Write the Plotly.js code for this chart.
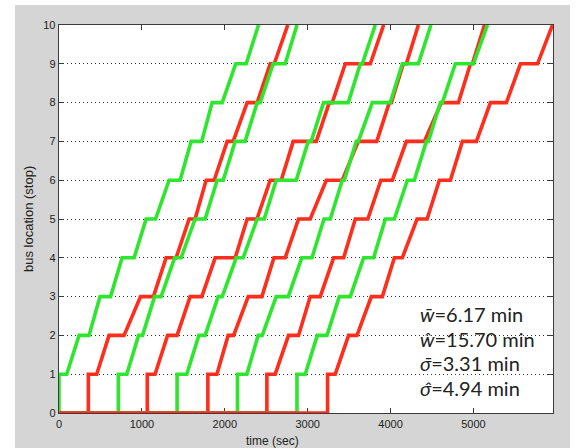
<!DOCTYPE html>
<html>
<head>
<meta charset="utf-8">
<script src="https://cdn.plot.ly/plotly-3.0.1.min.js"></script>
<style>
  html, body { margin: 0; padding: 0; background: #ffffff; }
  #chart { width: 582px; height: 448px; }
</style>
</head>
<body>
<div id="chart"></div>
<script>
// Stops on the route
const stops = [0, 1, 2, 3, 4, 5, 6, 7, 8, 9, 10];

// Arrival times (sec) at stops 1..10 (first value = dispatch time) and departure times at stops 1..9
const bus1Arr = [0, 242, 495, 761, 1051, 1328, 1594, 1848, 2132, 2407];
const bus1Dep = [93, 362, 622, 906, 1165, 1461, 1721, 1969, 2258];
const bus2Arr = [354, 604, 984, 1292, 1570, 1775, 2029, 2270, 2548, 2760];
const bus2Dep = [455, 785, 1139, 1413, 1642, 1872, 2101, 2391, 2597];
const bus3Arr = [716, 960, 1153, 1395, 1642, 1908, 2126, 2391, 2584, 2871];
const bus3Dep = [818, 1008, 1232, 1473, 1763, 1981, 2246, 2427, 2729];
const bus4Arr = [1065, 1310, 1582, 1884, 2270, 2548, 2826, 3261, 3454, 3917];
const bus4Dep = [1159, 1425, 1723, 2126, 2388, 2681, 3104, 3297, 3756];
const bus5Arr = [1425, 1687, 1920, 2138, 2391, 2621, 3007, 3192, 3635, 3816];
const bus5Dep = [1542, 1763, 1969, 2222, 2476, 2862, 3043, 3490, 3659];
const bus6Arr = [1796, 2041, 2283, 2593, 2890, 3225, 3611, 3985, 4154, 4336];
const bus6Dep = [1905, 2107, 2448, 2729, 3031, 3418, 3834, 4010, 4191];
const bus7Arr = [2153, 2403, 2621, 2929, 3197, 3418, 3587, 3780, 4142, 4487];
const bus7Dep = [2267, 2452, 2766, 3052, 3273, 3442, 3611, 3997, 4336];
const bus8Arr = [2508, 2769, 3031, 3313, 3575, 3883, 4191, 4613, 4964, 5133];
const bus8Dep = [2609, 2890, 3152, 3434, 3726, 4022, 4408, 4819, 4988];
const bus9Arr = [2871, 3116, 3382, 3675, 3937, 4203, 4432, 4601, 4782, 5169];
const bus9Dep = [2971, 3233, 3514, 3796, 4046, 4287, 4456, 4625, 5000];
const bus10Arr = [3240, 3494, 3768, 4046, 4320, 4589, 4867, 5205, 5567, 5954];
const bus10Dep = [3333, 3595, 3901, 4142, 4441, 4722, 5036, 5398, 5773];

const busColors = ['green', 'red', 'green', 'red', 'green', 'red', 'green', 'red', 'green', 'red'];

const xTicks = [0, 1000, 2000, 3000, 4000, 5000];
const yTicks = [0, 1, 2, 3, 4, 5, 6, 7, 8, 9, 10];

const statLabels = ['<i>w\u0304</i>=6.17 min', '<i>w\u0302</i>=15.70 min', '<i>\u03C3\u0304</i>=3.31 min', '<i>\u03C3\u0302</i>=4.94 min'];
const statY = [2.55, 1.92, 1.29, 0.65];
const statX = 4330;

const buses = [
  [bus1Arr, bus1Dep], [bus2Arr, bus2Dep], [bus3Arr, bus3Dep], [bus4Arr, bus4Dep], [bus5Arr, bus5Dep],
  [bus6Arr, bus6Dep], [bus7Arr, bus7Dep], [bus8Arr, bus8Dep], [bus9Arr, bus9Dep], [bus10Arr, bus10Dep]
];

const colorMap = { green: '#2ee62e', red: '#ff2d1c' };

const traces = buses.map(function (b, i) {
  const arr = b[0], dep = b[1];
  // waiting at the depot (stop 0), dispatched to stop 1, then dwell / travel alternation
  const xs = [0, arr[0], arr[0]], ys = [stops[0], stops[0], stops[1]];
  for (let k = 1; k <= 9; k++) {
    xs.push(dep[k - 1]); ys.push(stops[k]);
    xs.push(arr[k]); ys.push(stops[k + 1]);
  }
  return {
    type: 'scatter', mode: 'lines', x: xs, y: ys,
    line: { color: colorMap[busColors[i]], width: 3.6 },
    hoverinfo: 'skip', showlegend: false
  };
});

const axisCommon = {
  showline: true, linecolor: '#3c3c3c', linewidth: 1.3, mirror: 'ticks',
  ticks: 'inside', ticklen: 5, tickwidth: 1, tickcolor: '#3c3c3c',
  zeroline: false, layer: 'below traces',
  tickfont: { family: 'Liberation Sans, Arial, sans-serif', size: 11, color: '#222' }
};

const annotations = statLabels.map(function (t, i) {
  return {
    x: statX, y: statY[i], xref: 'x', yref: 'y', text: t, showarrow: false,
    xanchor: 'left', yanchor: 'middle',
    font: { family: 'Lato, Carlito, sans-serif', size: 20, color: '#222222' }
  };
});
annotations.push({
  x: (272 - 59) / 494, y: -0.072, xref: 'paper', yref: 'paper', text: 'time (sec)', showarrow: false,
  xanchor: 'center', yanchor: 'middle',
  font: { family: 'Liberation Sans, Arial, sans-serif', size: 12, color: '#222' }
});
annotations.push({
  x: (28 - 59) / 494, y: 0.5, xref: 'paper', yref: 'paper', text: 'bus location (stop)', showarrow: false,
  xanchor: 'center', yanchor: 'middle', textangle: -90,
  font: { family: 'Liberation Sans, Arial, sans-serif', size: 13, color: '#222' }
});

const layout = {
  width: 582, height: 448,
  margin: { l: 59, r: 29, t: 25, b: 35, pad: 0 },
  paper_bgcolor: '#d5d5d5', plot_bgcolor: '#ffffff',
  xaxis: Object.assign({}, axisCommon, {
    range: [0, 5960], tickvals: xTicks, ticktext: xTicks.map(String), showgrid: false
  }),
  yaxis: Object.assign({}, axisCommon, {
    range: [0, 10], tickvals: yTicks, ticktext: yTicks.map(String),
    showgrid: true, gridcolor: '#333333', gridwidth: 1, griddash: '1px,3px'
  }),
  annotations: annotations,
  shapes: [
    { type: 'rect', xref: 'paper', yref: 'paper', x0: -0.2, x1: (15 - 59) / 494, y0: -0.2, y1: 1.2, fillcolor: '#ffffff', line: { width: 0 }, layer: 'below' },
    { type: 'rect', xref: 'paper', yref: 'paper', x0: (570 - 59) / 494, x1: 1.2, y0: -0.2, y1: 1.2, fillcolor: '#ffffff', line: { width: 0 }, layer: 'below' },
    { type: 'rect', xref: 'paper', yref: 'paper', x0: -0.2, x1: 1.2, y0: (413 - 5) / 388, y1: 1.2, fillcolor: '#ffffff', line: { width: 0 }, layer: 'below' }
  ]
};

Plotly.newPlot('chart', traces, layout, { staticPlot: true, displayModeBar: false });
</script>
</body>
</html>
